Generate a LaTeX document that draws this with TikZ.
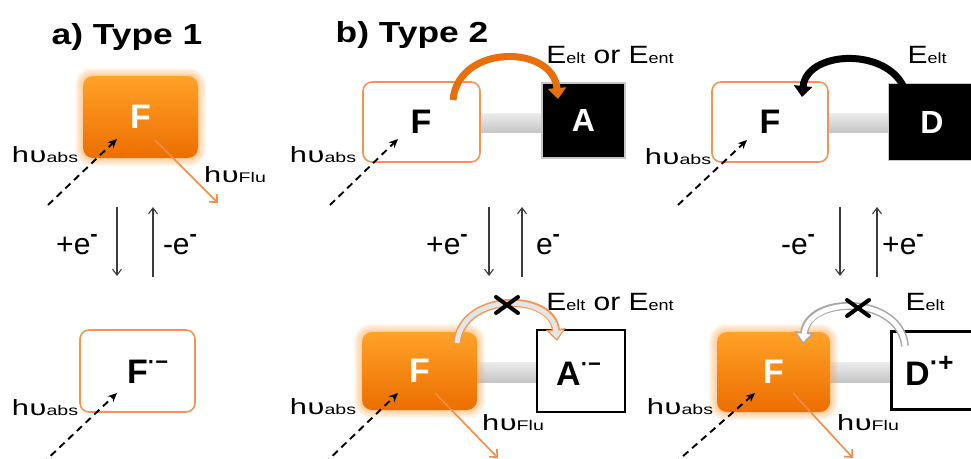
\documentclass[tikz,border=0pt]{standalone}
\usepackage{fontspec}
\setmainfont{Liberation Sans}
\usetikzlibrary{arrows.meta}
\definecolor{orA}{RGB}{255,162,40}
\definecolor{orB}{RGB}{236,110,0}
\definecolor{orline}{RGB}{240,150,85}
\definecolor{orflu}{RGB}{242,140,70}
\definecolor{glowc}{RGB}{255,160,60}
\definecolor{arrc}{RGB}{232,112,10}
\definecolor{dgray}{RGB}{60,60,60}
\newcommand\hnu[1]{\scalebox{1.4}[1]{h\kern0.5pt υ{\fontsize{14}{14}\selectfont #1}}}
\newcommand\EE[1]{E{\fontsize{15}{15}\selectfont #1}}
\newcommand\supm{\raisebox{13pt}{\fontsize{22}{22}\selectfont\bfseries -}}
\newcommand\glowat[4]{%
  \foreach \g in {1,...,8}{
    \fill[glowc, opacity=0.07, rounded corners=9pt+\g pt]
      (#1-\g,#2-\g) rectangle (#3+\g,#4+\g);}}
\tikzset{
  outbox/.style={draw=orline, line width=1.6pt, fill=white, rounded corners=9pt, inner sep=0pt},
  fillbox/.style={top color=orA, bottom color=orB, draw=none, rounded corners=10pt, inner sep=0pt,
    text=white, font=\fontsize{34}{34}\selectfont\bfseries},
  blkbox/.style={fill=black, draw=gray!45, line width=1.2pt, inner sep=0pt,
    text=white, font=\fontsize{32}{32}\selectfont\bfseries},
  wbox/.style={fill=white, draw=black, line width=2.6pt, inner sep=0pt},
  bar/.style={top color=gray!15, bottom color=gray!45, draw=none},
  letter/.style={font=\fontsize{34}{34}\selectfont\bfseries, inner sep=0pt},
  title/.style={font=\fontsize{29}{29}\selectfont\bfseries, inner sep=0pt},
  lab/.style={font=\fontsize{25}{25}\selectfont, inner sep=0pt},
  elab/.style={font=\fontsize{30}{30}\selectfont, inner sep=0pt},
  hlab/.style={font=\fontsize{22}{22}\selectfont, inner sep=0pt},
  dasharr/.style={dashed, dash pattern=on 7pt off 5pt, line width=1.9pt,
    -{Stealth[length=9pt,width=8pt]}},
  fluarr/.style={orflu, line width=1.6pt, -{Straight Barb[length=6pt,width=11pt]}},
  earr/.style={dgray, line width=1.1pt, -{Straight Barb[length=6pt,width=9pt]}},
  xmark/.style={line width=4pt, line cap=round}
}
\begin{document}
\begin{tikzpicture}[x=1pt,y=-1pt]
\clip (0,0) rectangle (971,458);
\fill[white] (0,0) rectangle (971,458);

% ---------- titles ----------
\node[title] (ta) at (127,37) {\scalebox{1.22}[1]{a) Type 1}};
\node[title] (tb) at (412,35) {\scalebox{1.22}[1]{b) Type 2}};

% ---------- gray bars ----------
\fill[bar] (478,113) rectangle (545,132);
\fill[bar] (475,362) rectangle (540,382);
\fill[bar] (826,113) rectangle (890,132);
\fill[bar] (828,362) rectangle (893,382);

% ---------- glows ----------
\glowat{83}{76}{198}{158}
\glowat{362}{332}{477}{410}
\glowat{717}{332}{830}{412}

% ---------- panel a ----------
\node[fillbox, minimum width=115pt, minimum height=82pt] (Fa1) at (140.5,117) {F};
\node[outbox, minimum width=115pt, minimum height=82pt] (Fa2) at (137.5,371) {};
\node[letter, anchor=base west] (Fa2t) at (127,383) {F\raisebox{14pt}{\fontsize{22}{22}\selectfont ·\bfseries −}};

% ---------- panel b ----------
\node[outbox, minimum width=117pt, minimum height=80pt] (Fb1) at (421.5,122) {};
\node[letter] (Fb1t) at (421,122) {F};
\node[blkbox, minimum width=83pt, minimum height=75pt] (Ab1) at (583.5,120.5) {A};
\node[fillbox, minimum width=115pt, minimum height=78pt] (Fb2) at (419.5,371) {F};
\node[wbox, minimum width=88pt, minimum height=82pt] (Ab2) at (581,371) {};
\node[letter, anchor=base west] (Ab2t) at (556,385) {A\raisebox{14pt}{\fontsize{22}{22}\selectfont ·\bfseries −}};

% ---------- panel c ----------
\node[outbox, minimum width=116pt, minimum height=80pt] (Fc1) at (770,122) {};
\node[letter] (Fc1t) at (770,122) {F};
\node[blkbox, minimum width=90pt, minimum height=77pt, anchor=north west] (Dc1) at (888,83) {};
\node[text=white, font=\fontsize{32}{32}\selectfont\bfseries, inner sep=0pt] (Dc1t) at (932,122) {D};
\node[fillbox, minimum width=113pt, minimum height=80pt] (Fc2) at (773.5,372) {F};
\node[wbox, minimum width=90pt, minimum height=78pt, anchor=north west] (Dc2) at (890,330) {};
\node[letter, anchor=base west] (Dc2t) at (905,385) {D\raisebox{14pt}{\fontsize{26}{26}\selectfont ·\bfseries +}};

% ---------- named coordinates ----------
\coordinate (sa1) at (48,205);   \coordinate (ea1) at (117,139);
\coordinate (sa2) at (42,464);   \coordinate (ea2) at (117,393);
\coordinate (sb1) at (330,205);  \coordinate (eb1) at (398,139);
\coordinate (sb2) at (324,464);  \coordinate (eb2) at (398,393);
\coordinate (sc1) at (678,205);  \coordinate (ec1) at (747,140);
\coordinate (sc2) at (674,464);  \coordinate (ec2) at (755,393);
\coordinate (fa0) at (155,140);  \coordinate (fa1) at (218,203);
\coordinate (fb0) at (435,393);  \coordinate (fb1) at (498,458);
\coordinate (fc0) at (793,393);  \coordinate (fc1) at (853,458);

% ---------- dashed absorption arrows ----------
\draw[dasharr] (sa1) -- (ea1);
\draw[dasharr] (sa2) -- (ea2);
\draw[dasharr] (sb1) -- (eb1);
\draw[dasharr] (sb2) -- (eb2);
\draw[dasharr] (sc1) -- (ec1);
\draw[dasharr] (sc2) -- (ec2);

% ---------- fluorescence arrows ----------
\draw[fluarr] (fa0) -- (fa1);
\draw[fluarr] (fb0) -- (fb1);
\draw[fluarr] (fc0) -- (fc1);

% ---------- hv labels ----------
\node[hlab] (ha1) at (45,155) {\hnu{abs}};
\node[hlab] (ha2) at (45,408) {\hnu{abs}};
\node[hlab] (hb1) at (323,155) {\hnu{abs}};
\node[hlab] (hb2) at (323,407) {\hnu{abs}};
\node[hlab] (hc1) at (678,157) {\hnu{abs}};
\node[hlab] (hc2) at (680,407) {\hnu{abs}};
\node[hlab] (hfa) at (235,175) {\hnu{Flu}};
\node[hlab] (hfb) at (513,423) {\hnu{Flu}};
\node[hlab] (hfc) at (868,423) {\hnu{Flu}};

% ---------- electron transfer arrows ----------
\coordinate (ea0t) at (117,207); \coordinate (ea0b) at (117,276);
\coordinate (ua0t) at (153,207); \coordinate (ua0b) at (153,277);
\coordinate (eb0t) at (489,207); \coordinate (eb0b) at (489,276);
\coordinate (ub0t) at (522,207); \coordinate (ub0b) at (522,277);
\coordinate (ec0t) at (840,207); \coordinate (ec0b) at (840,276);
\coordinate (uc0t) at (877,207); \coordinate (uc0b) at (877,277);
\draw[earr] (ea0t) -- (ea0b);
\draw[earr] (ua0b) -- (ua0t);
\draw[earr] (eb0t) -- (eb0b);
\draw[earr] (ub0b) -- (ub0t);
\draw[earr] (ec0t) -- (ec0b);
\draw[earr] (uc0b) -- (uc0t);

\node[elab] (ela) at (77,245) {+e\supm};
\node[elab] (era) at (180,245) {-e\supm};
\node[elab] (elb) at (447,245) {+e\supm};
\node[elab] (erb) at (548,245) {e\supm};
\node[elab] (elc) at (798,245) {-e\supm};
\node[elab] (erc) at (903,245) {+e\supm};

% ---------- energy labels ----------
\node[lab] (Eb1) at (610,55) {\scalebox{1.2}[1]{\EE{elt} or \EE{ent}}};
\node[lab] (Eb2) at (610,302) {\scalebox{1.2}[1]{\EE{elt} or \EE{ent}}};
\node[lab] (Ec1) at (927,55) {\scalebox{1.2}[1]{\EE{elt}}};
\node[lab] (Ec2) at (925,302) {\scalebox{1.2}[1]{\EE{elt}}};

% ---------- curved transfer arrows ----------
\coordinate (cb1s) at (453,100); \coordinate (cb1e) at (558,99);
\draw[arrc, line width=7pt, -{Triangle[length=11pt,width=18pt]}]
  (cb1s) .. controls (458,44) and (553,44) .. (cb1e);
\coordinate (cc1s) at (907,100); \coordinate (cc1e) at (802,97);
\draw[black, line width=7pt, -{Triangle[length=11pt,width=18pt]}]
  (cc1s) .. controls (902,47) and (807,47) .. (cc1e);

\coordinate (cb2s) at (457,343); \coordinate (cb2e) at (557,341);
\draw[orline, line width=8pt, -{Triangle[length=12pt,width=19pt]}]
  (cb2s) .. controls (462,292) and (552,292) .. (cb2e);
\draw[gray!20, line width=5pt, -{Triangle[length=8pt,width=13pt]}, shorten >=2.2pt]
  (cb2s) .. controls (462,292) and (552,292) .. (cb2e);
\coordinate (cc2s) at (905,346); \coordinate (cc2e) at (803,344);
\draw[gray!70, line width=8pt, -{Triangle[length=12pt,width=19pt]}]
  (cc2s) .. controls (900,295) and (808,295) .. (cc2e);
\draw[white, line width=5pt, -{Triangle[length=8pt,width=13pt]}, shorten >=2.2pt]
  (cc2s) .. controls (900,295) and (808,295) .. (cc2e);

% ---------- crosses ----------
\coordinate (xb) at (507,305); \coordinate (xc) at (858,308);
\draw[xmark] ([shift={(-11pt,8pt)}]xb) -- ([shift={(11pt,-8pt)}]xb);
\draw[xmark] ([shift={(-11pt,-8pt)}]xb) -- ([shift={(11pt,8pt)}]xb);
\draw[xmark] ([shift={(-11pt,8pt)}]xc) -- ([shift={(11pt,-8pt)}]xc);
\draw[xmark] ([shift={(-11pt,-8pt)}]xc) -- ([shift={(11pt,8pt)}]xc);
\end{tikzpicture}
\end{document}
